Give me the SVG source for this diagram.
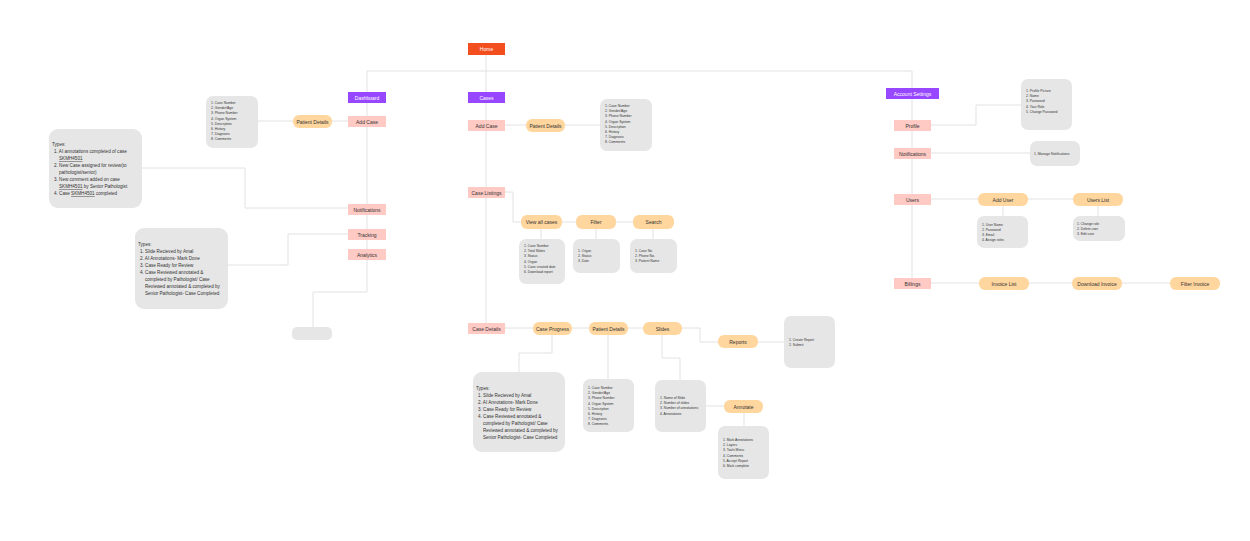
<svg xmlns="http://www.w3.org/2000/svg" width="1250" height="541" viewBox="0 0 1250 541">
<style>
text{font-family:"Liberation Sans",Arial,sans-serif;fill:#333}
.n{font-size:5px;text-anchor:middle}
.l{font-size:3.4px}
.t{font-size:4.6px}
.pk{fill:#ffc9c4}
.or{fill:#ffd69e}
.pu{fill:#9747ff}
.gr{fill:#e6e6e6}
.c path{fill:none;stroke:#e2e2e2;stroke-width:1}
.w{fill:#fff}
</style>
<rect width="1250" height="541" fill="#fff"/>
<g class="c">
<path d="M486 55V328M367 103V71H912V99"/>
<path d="M367 103V292H313V327"/>
<path d="M258 121H386"/>
<path d="M142 168H245V208H348"/>
<path d="M348 234H288V265H228"/>
<path d="M486 125H600"/>
<path d="M505 192H513V222H674"/>
<path d="M541 229V239M596 229V239M653 229V239"/>
<path d="M486 328H682H700V342H784"/>
<path d="M552 335V353H519V372"/>
<path d="M608 335V379"/>
<path d="M662 335V358H680V380"/>
<path d="M706 406H744V426"/>
<path d="M912 99V284"/>
<path d="M931 125H976V105H1021"/>
<path d="M931 153H1030"/>
<path d="M931 199H1098V216M1003 206V216"/>
<path d="M931 283H1195"/>
</g>
<g id="home"><rect x="468" y="43" width="37" height="12" fill="#f24e1e"/><text class="n" x="486.5" y="51" style="fill:#fff">Home</text></g>
<g id="dashboard"><rect class="pu" x="348" y="92" width="38" height="11"/><text class="n" x="367" y="99.5" style="fill:#fff">Dashboard</text></g>
<g id="d-addcase"><rect class="pk" x="348" y="116" width="38" height="11"/><text class="n" x="367" y="123.5">Add Case</text></g>
<g id="d-pd"><rect class="or" x="293" y="115" width="39" height="13" rx="6"/><text class="n" x="312.5" y="123.5">Patient Details</text></g>
<g id="d-pdlist"><rect class="gr" x="206" y="96" width="52" height="52" rx="7"/>
<text class="l" x="211" y="104">1. Case Number</text><text class="l" x="211" y="109.2">2. Gender/Age</text><text class="l" x="211" y="114.4">3. Phone Number</text><text class="l" x="211" y="119.6">4. Organ System</text><text class="l" x="211" y="124.8">5. Description</text><text class="l" x="211" y="130">6. History</text><text class="l" x="211" y="135.2">7. Diagnosis</text><text class="l" x="211" y="140.4">8. Comments</text></g>
<g id="d-notif"><rect class="pk" x="348" y="204" width="38" height="11"/><text class="n" x="367" y="211.5">Notifications</text></g>
<g id="d-notiftypes"><rect class="gr" x="49" y="129" width="93" height="79" rx="9"/>
<text class="t" x="52" y="146">Types:</text>
<text class="t" x="54" y="153">1. AI annotations completed of case</text><text class="t" x="59" y="160" text-decoration="underline">SKMH4501</text>
<text class="t" x="54" y="167">2. New Case assigned for review(to</text><text class="t" x="59" y="174">pathologist/senior)</text>
<text class="t" x="54" y="181">3. New comment added on case</text><text class="t" x="59" y="188"><tspan text-decoration="underline">SKMH4501</tspan> by Senior Pathologist</text>
<text class="t" x="54" y="195">4. Case <tspan text-decoration="underline">SKMH4501</tspan> completed</text></g>
<g id="d-tracking"><rect class="pk" x="348" y="229" width="38" height="11"/><text class="n" x="367" y="236.5">Tracking</text></g>
<g id="d-analytics"><rect class="pk" x="348" y="249" width="38" height="11"/><text class="n" x="367" y="256.5">Analytics</text></g>
<g id="d-tracktypes"><rect class="gr" x="135" y="228" width="93" height="81" rx="9"/>
<text class="t" x="138" y="246">Types:</text>
<text class="t" x="140" y="253">1.  Slide Recieved by Amal</text>
<text class="t" x="140" y="260">2.  AI Annotations- Mark Done</text>
<text class="t" x="140" y="267">3.  Case Ready for Review</text>
<text class="t" x="140" y="274">4.  Case Reviewed annotated &amp;</text>
<text class="t" x="145" y="281">completed by Pathologist/ Case</text>
<text class="t" x="145" y="288">Reviewed annotated &amp; completed by</text>
<text class="t" x="145" y="295">Senior Pathologist- Case Completed</text></g>
<g id="d-empty"><rect class="gr" x="292" y="327" width="40" height="13" rx="5"/></g>

<g id="cases"><rect class="pu" x="468" y="92" width="37" height="11"/><text class="n" x="486.5" y="99.5" style="fill:#fff">Cases</text></g>
<g id="c-addcase"><rect class="pk" x="468" y="120" width="37" height="11"/><text class="n" x="486.5" y="127.5">Add Case</text></g>
<g id="c-pd"><rect class="or" x="526" y="119" width="39" height="13" rx="6"/><text class="n" x="545.5" y="127.5">Patient Details</text></g>
<g id="c-pdlist"><rect class="gr" x="600" y="99" width="52" height="52" rx="7"/>
<text class="l" x="605" y="107">1. Case Number</text><text class="l" x="605" y="112.2">2. Gender/Age</text><text class="l" x="605" y="117.4">3. Phone Number</text><text class="l" x="605" y="122.6">4. Organ System</text><text class="l" x="605" y="127.8">5. Description</text><text class="l" x="605" y="133">6. History</text><text class="l" x="605" y="138.2">7. Diagnosis</text><text class="l" x="605" y="143.4">8. Comments</text></g>
<g id="c-listings"><rect class="pk" x="468" y="187" width="37" height="11"/><text class="n" x="486.5" y="194.5">Case Listings</text></g>
<g id="c-viewall"><rect class="or" x="521" y="215" width="41" height="14" rx="6"/><text class="n" x="541.5" y="224">View all cases</text></g>
<g id="c-filter"><rect class="or" x="576" y="215" width="40" height="14" rx="6"/><text class="n" x="596" y="224">Filter</text></g>
<g id="c-search"><rect class="or" x="633" y="215" width="41" height="14" rx="6"/><text class="n" x="653.5" y="224">Search</text></g>
<g id="c-viewlist"><rect class="gr" x="519" y="239" width="46" height="45" rx="7"/>
<text class="l" x="524" y="247">1.  Case Number</text><text class="l" x="524" y="252.2">2.  Total Slides</text><text class="l" x="524" y="257.4">3.  Status</text><text class="l" x="524" y="262.6">4.  Organ</text><text class="l" x="524" y="267.8">5.  Case created date</text><text class="l" x="524" y="273">6.  Download report</text></g>
<g id="c-filterlist"><rect class="gr" x="573" y="239" width="47" height="34" rx="7"/>
<text class="l" x="578" y="252">1. Organ</text><text class="l" x="578" y="257.2">2. Status</text><text class="l" x="578" y="262.4">3. Date</text></g>
<g id="c-searchlist"><rect class="gr" x="630" y="239" width="47" height="34" rx="7"/>
<text class="l" x="635" y="252">1. Case No.</text><text class="l" x="635" y="257.2">2. Phone No.</text><text class="l" x="635" y="262.4">3. Patient Name</text></g>
<g id="c-details"><rect class="pk" x="468" y="323" width="37" height="11"/><text class="n" x="486.5" y="330.5">Case Details</text></g>
<g id="c-progress"><rect class="or" x="533" y="322" width="39" height="13" rx="6"/><text class="n" x="552.5" y="330.5">Case Progress</text></g>
<g id="c-pd2"><rect class="or" x="589" y="322" width="39" height="13" rx="6"/><text class="n" x="608.5" y="330.5">Patient Details</text></g>
<g id="c-slides"><rect class="or" x="643" y="322" width="39" height="13" rx="6"/><text class="n" x="662.5" y="330.5">Slides</text></g>
<g id="c-reports"><rect class="or" x="718" y="335" width="40" height="13" rx="6"/><text class="n" x="738" y="343.5">Reports</text></g>
<g id="c-reportlist"><rect class="gr" x="784" y="316" width="51" height="52" rx="7"/>
<text class="l" x="789" y="341">1. Create Report</text><text class="l" x="789" y="346.2">2. Submit</text></g>
<g id="c-progtypes"><rect class="gr" x="473" y="372" width="92" height="80" rx="9"/>
<text class="t" x="476" y="390">Types:</text>
<text class="t" x="478" y="397">1.  Slide Recieved by Amal</text>
<text class="t" x="478" y="404">2.  AI Annotations- Mark Done</text>
<text class="t" x="478" y="411">3.  Case Ready for Review</text>
<text class="t" x="478" y="418">4.  Case Reviewed annotated &amp;</text>
<text class="t" x="483" y="425">completed by Pathologist/ Case</text>
<text class="t" x="483" y="432">Reviewed annotated &amp; completed by</text>
<text class="t" x="483" y="439">Senior Pathologist- Case Completed</text></g>
<g id="c-pdlist2"><rect class="gr" x="583" y="379" width="51" height="53" rx="7"/>
<text class="l" x="588" y="389">1. Case Number</text><text class="l" x="588" y="394.2">2. Gender/Age</text><text class="l" x="588" y="399.4">3. Phone Number</text><text class="l" x="588" y="404.6">4. Organ System</text><text class="l" x="588" y="409.8">5. Description</text><text class="l" x="588" y="415">6. History</text><text class="l" x="588" y="420.2">7. Diagnosis</text><text class="l" x="588" y="425.4">8. Comments</text></g>
<g id="c-slidelist"><rect class="gr" x="655" y="380" width="51" height="52" rx="7"/>
<text class="l" x="660" y="399">1. Name of Slide</text><text class="l" x="660" y="404.2">2. Number of slides</text><text class="l" x="660" y="409.4">3. Number of annotations</text><text class="l" x="660" y="414.6">4. Annotations</text></g>
<g id="c-annotate"><rect class="or" x="724" y="400" width="39" height="13" rx="6"/><text class="n" x="743.5" y="408.5">Annotate</text></g>
<g id="c-annolist"><rect class="gr" x="718" y="426" width="51" height="53" rx="7"/>
<text class="l" x="723" y="441">1. Mark Annotations</text><text class="l" x="723" y="446.2">2. Layers</text><text class="l" x="723" y="451.4">3. Tools Menu</text><text class="l" x="723" y="456.6">4. Comments</text><text class="l" x="723" y="461.8">5. Accept Report</text><text class="l" x="723" y="467">6. Mark complete</text></g>

<g id="account"><rect class="pu" x="886" y="88" width="53" height="11"/><text class="n" x="912.5" y="95.5" style="fill:#fff">Account Settings</text></g>
<g id="a-profile"><rect class="pk" x="894" y="120" width="37" height="11"/><text class="n" x="912.5" y="127.5">Profile</text></g>
<g id="a-profilelist"><rect class="gr" x="1021" y="79" width="51" height="51" rx="7"/>
<text class="l" x="1026" y="92">1. Profile Picture</text><text class="l" x="1026" y="97.2">2. Name</text><text class="l" x="1026" y="102.4">3. Password</text><text class="l" x="1026" y="107.6">4. Your Role</text><text class="l" x="1026" y="112.8">5. Change Password</text></g>
<g id="a-notif"><rect class="pk" x="894" y="148" width="37" height="11"/><text class="n" x="912.5" y="155.5">Notifications</text></g>
<g id="a-notiflist"><rect class="gr" x="1030" y="141" width="50" height="25" rx="7"/><text class="l" x="1034" y="155">1. Manage Notifications</text></g>
<g id="a-users"><rect class="pk" x="894" y="194" width="37" height="11"/><text class="n" x="912.5" y="201.5">Users</text></g>
<g id="a-adduser"><rect class="or" x="978" y="193" width="50" height="13" rx="6"/><text class="n" x="1003" y="201.5">Add User</text></g>
<g id="a-userslist"><rect class="or" x="1073" y="193" width="50" height="13" rx="6"/><text class="n" x="1098" y="201.5">Users List</text></g>
<g id="a-adduserlist"><rect class="gr" x="977" y="216" width="51" height="32" rx="7"/>
<text class="l" x="982" y="225.5">1. User Name</text><text class="l" x="982" y="230.7">2. Password</text><text class="l" x="982" y="235.9">3. Email</text><text class="l" x="982" y="241.1">4. Assign roles</text></g>
<g id="a-userslistlist"><rect class="gr" x="1073" y="216" width="52" height="25" rx="7"/>
<text class="l" x="1077" y="225">1. Change role</text><text class="l" x="1077" y="230.2">2. Delete user</text><text class="l" x="1077" y="235.4">3. Edit user</text></g>
<g id="a-billings"><rect class="pk" x="894" y="278" width="37" height="11"/><text class="n" x="912.5" y="285.5">Billings</text></g>
<g id="a-invoicelist"><rect class="or" x="979" y="277" width="50" height="13" rx="6"/><text class="n" x="1004" y="285.5">Invoice List</text></g>
<g id="a-download"><rect class="or" x="1072" y="277" width="50" height="13" rx="6"/><text class="n" x="1097" y="285.5">Download Invoice</text></g>
<g id="a-filter"><rect class="or" x="1170" y="277" width="50" height="13" rx="6"/><text class="n" x="1195" y="285.5">Filter Invoice</text></g>
</svg>
